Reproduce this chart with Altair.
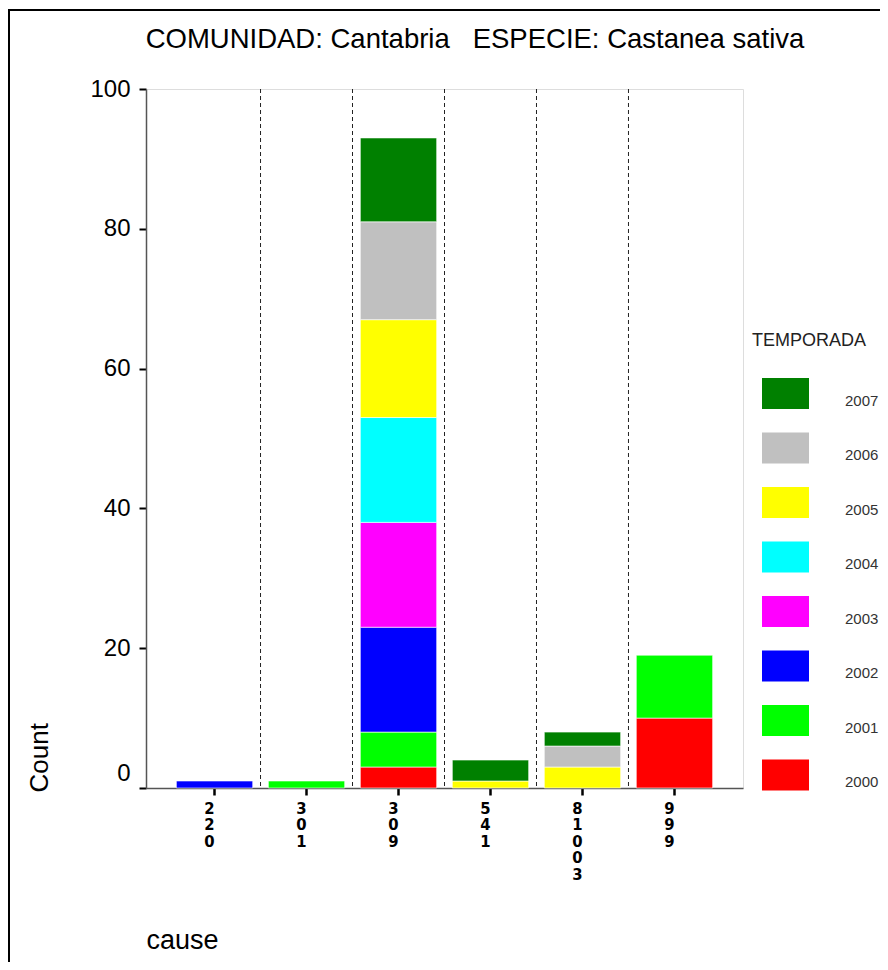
import altair as alt
import pandas as pd

# ---- data ----
causes = ["220", "301", "309", "541", "81003", "999"]
years = ["2000", "2001", "2002", "2003", "2004", "2005", "2006", "2007"]
year_colors = ["#FF0000", "#00FF00", "#0000FF", "#FF00FF", "#00FFFF", "#FFFF00", "#C0C0C0", "#008000"]

rec_cause = ["220", "301",
             "309", "309", "309", "309", "309", "309", "309", "309",
             "541", "541",
             "81003", "81003", "81003",
             "999", "999"]
rec_year = ["2002", "2001",
            "2000", "2001", "2002", "2003", "2004", "2005", "2006", "2007",
            "2005", "2007",
            "2005", "2006", "2007",
            "2000", "2001"]
rec_count = [1, 1,
             3, 5, 15, 15, 15, 14, 14, 12,
             1, 3,
             3, 3, 2,
             10, 9]

y_ticks = [0, 20, 40, 60, 80, 100]
title_text = "COMUNIDAD: Cantabria\u00a0\u00a0\u00a0ESPECIE: Castanea sativa"

df = pd.DataFrame({"cause": rec_cause, "year": rec_year, "count": rec_count})
sep_df = pd.DataFrame({"cause": causes[1:]})

W, H = 597, 699
FONT = "Liberation Sans, Arial, sans-serif"

x_scale = alt.Scale(domain=causes, paddingInner=0, paddingOuter=0.245)

one = pd.DataFrame({"k": [0]})

frame = alt.Chart(one).mark_rect(
    fill="transparent", stroke="black", strokeWidth=2
).encode(
    x=alt.value(-137), x2=alt.value(780), y=alt.value(-79), y2=alt.value(920)
)

title_mark = alt.Chart(one).mark_text(
    font=FONT, fontSize=27.5, color="black", align="center", baseline="middle"
).encode(
    x=alt.value(329), y=alt.value(-49), text=alt.value(title_text)
)

seps = alt.Chart(sep_df).mark_rule(
    color="#222", strokeDash=[4, 3], strokeWidth=1
).encode(
    x=alt.X("cause:N", bandPosition=0, scale=x_scale)
)

bars = alt.Chart(df).mark_bar(
    width=alt.RelativeBandSize(0.83),
    stroke="white", strokeOpacity=0.6, strokeWidth=1
).encode(
    x=alt.X(
        "cause:N", scale=x_scale, sort=causes,
        axis=alt.Axis(
            title="cause", titleFont=FONT, titleFontSize=27, titleFontWeight="normal",
            titleColor="black", titleAnchor="start", titleAlign="left",
            titleBaseline="alphabetic", titleX=0, titleY=160,
            labelAngle=0, labelExpr="split(datum.label, '')",
            labelFont="Liberation Sans Narrow, DejaVu Sans Condensed, sans-serif",
            labelFontSize=16.5, labelFontWeight="bold", labelLineHeight=16.5,
            labelBaseline="top", labelPadding=5, labelColor="black",
            tickSize=7, tickWidth=2.5, tickColor="black",
            domainColor="#555", domainWidth=1.5,
        ),
    ),
    y=alt.Y(
        "sum(count):Q", stack="zero",
        scale=alt.Scale(domain=[0, 100], nice=False),
        axis=alt.Axis(
            values=y_ticks, grid=False,
            title="Count", titleFont=FONT, titleFontSize=26, titleFontWeight="normal",
            titleColor="black", titleAngle=-90, titleAlign="left", titleBaseline="middle",
            titleX=-107, titleY=H + 4,
            labelFont=FONT, labelFontSize=24, labelColor="black", labelPadding=9,
            labelOffset={"condition": {"test": "datum.value == 0", "value": -15}, "value": 0},
            tickSize=7, tickWidth=2, tickColor="black",
            domainColor="#555", domainWidth=1.5,
        ),
    ),
    color=alt.Color(
        "year:O",
        scale=alt.Scale(domain=years[::-1], range=year_colors[::-1]),
        legend=alt.Legend(
            title="TEMPORADA", orient="none", legendX=606, legendY=243,
            titleFont=FONT, titleFontSize=18, titleFontWeight="normal", titleColor="#222",
            titlePadding=20, padding=0,
            labelFont=FONT, labelFontSize=15, labelColor="#333", labelBaseline="top",
            labelOffset=36,
            symbolType="M-1,-0.66L1,-0.66L1,0.66L-1,0.66Z", symbolSize=2209,
            symbolStrokeWidth=0, symbolOpacity=1, symbolOffset=10,
            rowPadding=14.5,
        ),
    ),
    order=alt.Order("year:O", sort="ascending"),
)

chart = alt.layer(frame, title_mark, seps, bars).properties(
    width=W, height=H,
    autosize=alt.AutoSizeParams(type="none"),
    padding={"left": 138, "top": 81, "right": 137, "bottom": 174},
).configure_view(
    stroke="#555", strokeWidth=1.5
).configure(background="white")

chart.save("out.html", embed_options={"renderer": "svg", "actions": False})
